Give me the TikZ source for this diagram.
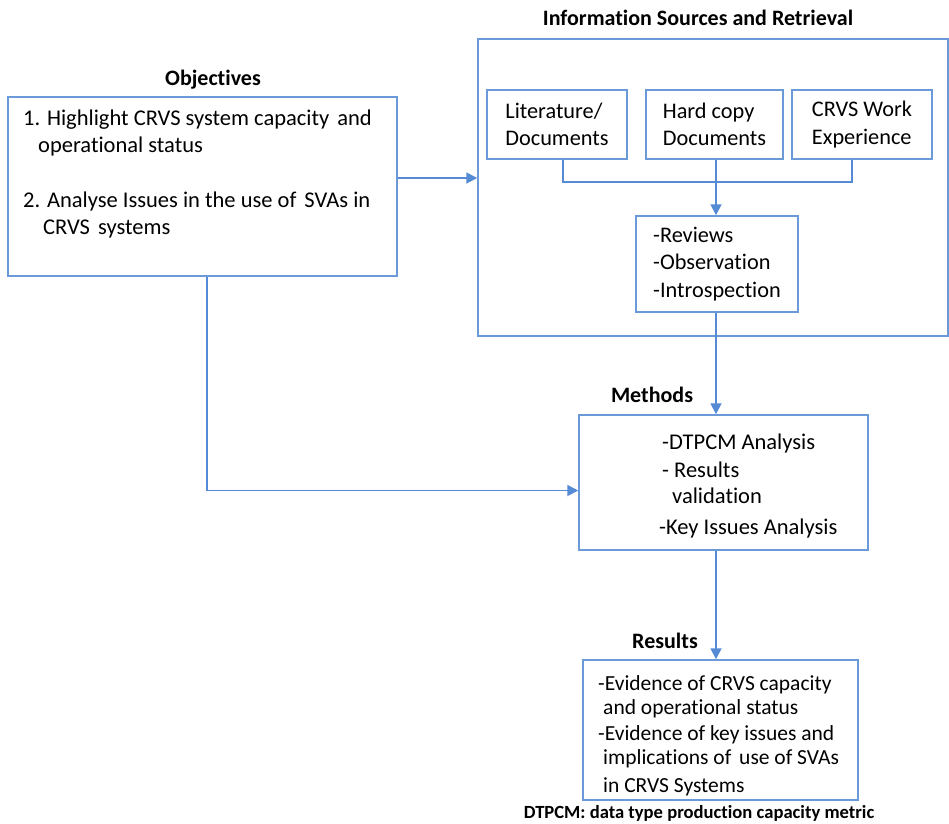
\documentclass[tikz,border=0pt]{standalone}
\usepackage{fontspec}
\setmainfont{Carlito}[Ligatures={NoCommon}]
\usetikzlibrary{arrows.meta,calc}
\definecolor{bluebox}{RGB}{106,155,216}
\definecolor{bluearr}{RGB}{84,139,212}
\begin{document}
\begin{tikzpicture}[x=1pt,y=-1pt,
  box/.style={draw=bluebox,line width=1.5pt,rectangle,inner sep=0pt},
  btxt/.style={font=\fontsize{22.3}{27.5}\selectfont,align=left,inner sep=0pt},
  txt/.style={font=\fontsize{22.5}{27}\selectfont,inner sep=0pt,anchor=base west},
  ttl/.style={font=\fontsize{22}{27}\selectfont\bfseries,inner sep=0pt,anchor=base},
  arr/.style={draw=bluearr,line width=1.8pt,-{Triangle[length=11pt,width=11pt]}},
  con/.style={draw=bluearr,line width=1.8pt}]
\useasboundingbox (0,0) rectangle (949,823);

% titles
\node[ttl] (tobj) at (213,85) {Objectives};
\node[ttl] (tinfo) at (698,25) {Information Sources and Retrieval};
\node[ttl] (tmeth) at (652,402) {Methods};
\node[ttl] (tres) at (665,648) {Results};
\node[ttl,font=\fontsize{18.6}{22}\selectfont\bfseries] (foot) at (699,818) {DTPCM: data type production capacity metric};

% boxes
\node[box,minimum width=389pt,minimum height=179pt] (obj) at (202.5,186.5) {};
\node[box,minimum width=470pt,minimum height=297pt] (info) at (713,187.5) {};
\node[box,btxt,minimum width=140pt,minimum height=69pt] (lit) at (557,124.5) {Literature/\\Documents};
\node[box,btxt,minimum width=137pt,minimum height=69pt] (hard) at (714.5,124.5) {Hard copy\\Documents};
\node[box,btxt,minimum width=140pt,minimum height=69pt] (work) at (862,124.5) {CRVS Work\\Experience};
\node[box,btxt,minimum width=162pt,minimum height=96pt] (rev) at (717,264) {-Reviews\\-Observation\\-Introspection};
\node[box,minimum width=289pt,minimum height=135pt] (meth) at (723.5,482.5) {};
\node[box,minimum width=275pt,minimum height=140pt] (res) at (720.5,730) {};

% objectives text
\node[txt] (o1) at (23,125) {1. Highlight CRVS system capacity\hspace{3pt} and};
\node[txt] (o2) at (38,152) {operational status};
\node[txt] (o3) at (23,207) {2. Analyse Issues in the use of\hspace{3pt} SVAs in};
\node[txt] (o4) at (43,234) {CRVS\hspace{3pt} systems};

% methods text
\node[txt] (m1) at (662,449) {-DTPCM Analysis};
\node[txt] (m2) at (662,477) {- Results};
\node[txt] (m3) at (672,503) {validation};
\node[txt] (m4) at (659,534) {-Key Issues Analysis};

% results text
\node[txt,font=\fontsize{21.5}{26}\selectfont] (r1) at (598,690) {-Evidence of CRVS capacity};
\node[txt,font=\fontsize{21.5}{26}\selectfont] (r2) at (603,714) {and operational status};
\node[txt,font=\fontsize{21.5}{26}\selectfont] (r3) at (598,740) {-Evidence of key issues and};
\node[txt,font=\fontsize{21.5}{26}\selectfont] (r4) at (603,764) {implications of\hspace{3pt} use of SVAs};
\node[txt,font=\fontsize{21.5}{26}\selectfont] (r5) at (603,792) {in CRVS Systems};

% connectors
\coordinate (join) at (716,182);
\draw[arr] ([yshift=8.5pt]obj.east) -- ([yshift=8.5pt]obj.east -| info.west);
\draw[con] ([xshift=6pt]lit.south) |- (join);
\draw[con] ([xshift=-10pt]work.south) |- (join);
\draw[arr] ([xshift=1.5pt]hard.south) -- ([xshift=1.5pt]hard.south |- rev.north);
\draw[arr] ([xshift=-1pt]rev.south) -- ([xshift=-1pt]rev.south |- meth.north);
\draw[arr] ([xshift=-7.5pt]meth.south) -- ([xshift=-7.5pt]meth.south |- res.north);
\draw[arr] ([xshift=4.5pt]obj.south) |- ([yshift=-8pt]meth.west);
\end{tikzpicture}
\end{document}
